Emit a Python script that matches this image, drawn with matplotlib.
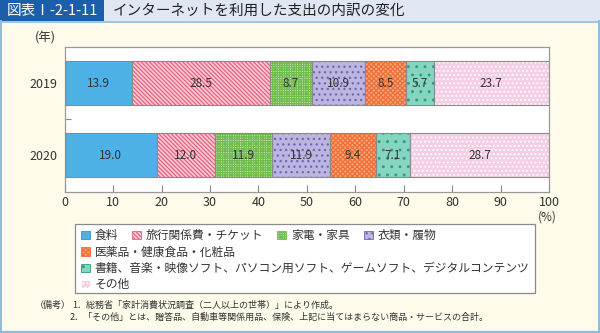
import matplotlib
matplotlib.use("Agg")
import matplotlib.pyplot as plt
from matplotlib.patches import Rectangle, Patch
from matplotlib.lines import Line2D

plt.rcParams['font.family'] = ['Noto Sans CJK JP', 'DejaVu Sans']
plt.rcParams['hatch.linewidth'] = 0.9

# ---------------- data ----------------
years = ['2019', '2020']
categories = ['食料', '旅行関係費・チケット', '家電・家具', '衣類・履物',
              '医薬品・健康食品・化粧品',
              '書籍、音楽・映像ソフト、パソコン用ソフト、ゲームソフト、デジタルコンテンツ',
              'その他']
values_2019 = [13.9, 28.5, 8.7, 10.9, 8.5, 5.7, 23.7]
values_2020 = [19.0, 12.0, 11.9, 11.9, 9.4, 7.1, 28.7]
x_ticks = [0, 10, 20, 30, 40, 50, 60, 70, 80, 90, 100]
title_label = '図表Ⅰ-2-1-11'
title_text = 'インターネットを利用した支出の内訳の変化'
notes = ['（備考）', '1．総務省「家計消費状況調査（二人以上の世帯）」により作成。',
         '2．「その他」とは、贈答品、自動車等関係用品、保険、上記に当てはまらない商品・サービスの合計。']

# ---------------- styles ----------------
faces = ['#4db1e6', '#f9cdd7', '#cdebb8', '#bcb5e0', '#f8a77c', '#86d5c3', '#f5cde5']
hatches = [None, '\\' * 8, '+' * 7, '...', 'x' * 7, '..', '....']
hatch_cols = ['#4db1e6', '#e8607c', '#6fbb4e', '#6e67b5', '#f06d35', '#2e9f6e', '#ffffff']
outline = '#8a8a8a'
text_col = '#333333'

W, H = 600, 333
fig = plt.figure(figsize=(6.0, 3.33), dpi=100)

def fx(px):
    return px / W

def fy(py):
    return 1 - py / H

# backgrounds
fig.add_artist(Rectangle((0, 0), 1, 1, transform=fig.transFigure,
                         facecolor='#fefbea', edgecolor='none', zorder=-10))
fig.add_artist(Rectangle((fx(0), fy(21)), 1, 21 / H, transform=fig.transFigure,
                         facecolor='#dfe7f3', edgecolor='none', zorder=-9))
fig.add_artist(Rectangle((fx(0), fy(21)), fx(104), 21 / H, transform=fig.transFigure,
                         facecolor='#1b5fab', edgecolor='none', zorder=-8))
fig.add_artist(Line2D([0, 1], [fy(21.5), fy(21.5)], transform=fig.transFigure,
                      color='#8fbbe0', lw=1.2))
fig.add_artist(Line2D([fx(0.7), fx(0.7)], [fy(21), fy(332)], transform=fig.transFigure,
                      color='#8fbbe0', lw=1.4))
fig.add_artist(Line2D([fx(599.3), fx(599.3)], [fy(21), fy(332)], transform=fig.transFigure,
                      color='#8fbbe0', lw=1.4))
fig.add_artist(Line2D([0, 1], [fy(331.5), fy(331.5)], transform=fig.transFigure,
                      color='#8fbbe0', lw=1.6))

fig.text(fx(52), fy(10.5), title_label, color='white', fontsize=10.5,
         ha='center', va='center')
fig.text(fx(113), fy(10.5), title_text, color='#222222', fontsize=10.5,
         ha='left', va='center')

# ---------------- axes ----------------
ax = fig.add_axes([fx(64.7), fy(191.7), fx(549) - fx(64.7), 145 / H])
ax.set_facecolor('white')
ypos = [1, 0]
data = [values_2019, values_2020]
bar_h = 0.605
for yi, vals in zip(ypos, data):
    left = 0.0
    for i, v in enumerate(vals):
        ax.barh(yi, v, left=left, height=bar_h, color=faces[i],
                hatch=hatches[i], edgecolor=hatch_cols[i], linewidth=0, zorder=2)
        ax.barh(yi, v, left=left, height=bar_h, fill=False,
                edgecolor=outline, linewidth=0.8, zorder=3)
        ax.text(left + v / 2, yi, f'{v:.1f}', ha='center', va='center',
                fontsize=8.5, color=text_col, zorder=4)
        left += v

ax.set_xlim(0, 100)
ax.set_ylim(-0.505, 1.505)
ax.set_xticks(x_ticks)
ax.set_xticklabels([str(t) for t in x_ticks], fontsize=9, color=text_col)
ax.set_yticks(ypos)
ax.set_yticklabels(years, fontsize=9, color=text_col)
ax.set_yticks([0.5], minor=True)
ax.tick_params(axis='x', direction='in', length=5, width=0.8, color='#888888', pad=3)
ax.tick_params(axis='y', which='major', length=0, pad=5)
ax.tick_params(axis='y', which='minor', direction='in', length=4, width=0.8, color='#888888')
for s in ax.spines.values():
    s.set_color('#999999')
    s.set_linewidth(0.9)

fig.text(fx(45), fy(38), '(年)', fontsize=9, color=text_col, ha='center', va='center')
fig.text(fx(547), fy(217), '(%)', fontsize=8.5, color=text_col, ha='center', va='center')

# ---------------- legend ----------------
fig.add_artist(Rectangle((fx(75), fy(292.5)), fx(535) - fx(75), (292.5 - 223.5) / H,
                         transform=fig.transFigure, facecolor='white',
                         edgecolor='#8a8a8a', linewidth=0.9, zorder=1))
handles = [Patch(facecolor=faces[i], hatch=hatches[i], edgecolor=hatch_cols[i] if i else '#3a8fc0',
                 linewidth=0.6, label=categories[i]) for i in range(len(categories))]
rows = [[0, 1, 2, 3], [4], [5], [6]]
row_y = [235.5, 252, 268.5, 284.5]
for r, yy in zip(rows, row_y):
    leg = fig.legend(handles=[handles[i] for i in r], loc='center left',
                     bbox_to_anchor=(fx(81), fy(yy)), ncol=len(r), frameon=False,
                     fontsize=8.5, handlelength=0.75, handleheight=0.75,
                     handletextpad=0.4, columnspacing=1.2, borderpad=0,
                     borderaxespad=0)
    for t in leg.get_texts():
        t.set_color(text_col)
    leg.set_zorder(5)

# ---------------- notes ----------------
fig.text(fx(35), fy(305), notes[0], fontsize=6.5, color=text_col, ha='left', va='center')
fig.text(fx(72), fy(305), notes[1], fontsize=6.5, color=text_col, ha='left', va='center')
fig.text(fx(70), fy(317), notes[2], fontsize=6.5, color=text_col, ha='left', va='center')

fig.savefig('out.png', dpi=100)
